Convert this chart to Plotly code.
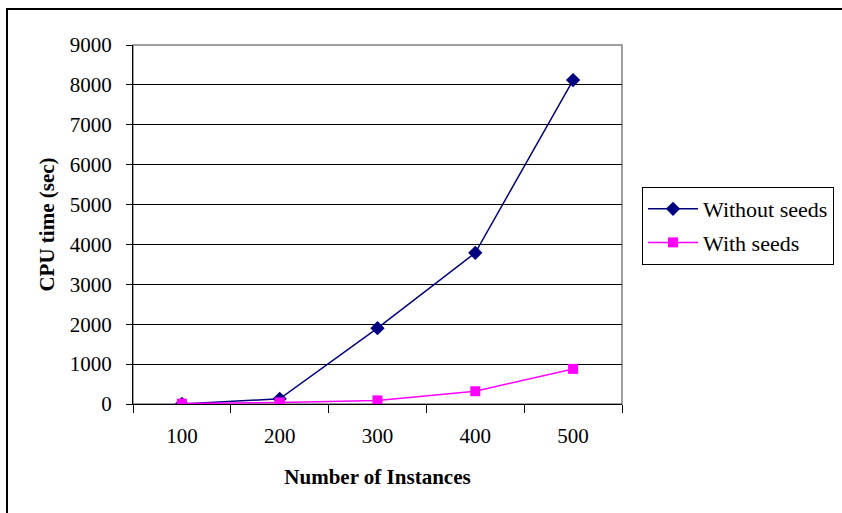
import plotly.graph_objects as go

# Problem sizes and measured CPU times (seconds)
instances = ["100", "200", "300", "400", "500"]
without_seeds = [0, 130, 1900, 3790, 8120]
with_seeds = [10, 40, 90, 320, 880]
y_ticks = [0, 1000, 2000, 3000, 4000, 5000, 6000, 7000, 8000, 9000]

SERIF = "Liberation Serif, Times New Roman, serif"

fig = go.Figure()
fig.add_trace(go.Scatter(
    x=instances, y=without_seeds, name="Without seeds",
    legendgroup="a",
    mode="lines+markers",
    line=dict(color="#000080", width=1.5),
    marker=dict(symbol="diamond", size=11, color="#000080"),
))
fig.add_trace(go.Scatter(
    x=instances, y=with_seeds, name="With seeds",
    legendgroup="b",
    mode="lines+markers",
    line=dict(color="#FF00FF", width=1.5),
    marker=dict(symbol="square", size=10, color="#FF00FF"),
))

W, H = 842, 513
L, R, T, B = 133, 220, 45, 109
pw, ph = W - L - R, H - T - B

def px_to_paper_x(px):
    return (px - L) / pw

def px_to_paper_y(py):
    return (H - B - py) / ph

fig.update_layout(
    width=W, height=H,
    margin=dict(l=L, r=R, t=T, b=B, autoexpand=False),
    paper_bgcolor="white", plot_bgcolor="white",
    font=dict(family=SERIF, size=21, color="black"),
    showlegend=True,
    legend=dict(
        x=px_to_paper_x(642), y=px_to_paper_y(187),
        xanchor="left", yanchor="top",
        bordercolor="black", borderwidth=1,
        bgcolor="white",
        font=dict(family=SERIF, size=22),
        tracegroupgap=2,
        itemwidth=50,
    ),
    xaxis=dict(
        type="category",
        range=[-0.5, 4.5],
        showgrid=False,
        showline=True, linecolor="black", linewidth=1,
        ticks="outside", ticklen=8, tickcolor="black",
        tickson="boundaries",
        ticklabelstandoff=13,
        title=dict(text="<b>Number of Instances</b>", standoff=22,
                   font=dict(family=SERIF, size=21)),
        zeroline=False,
    ),
    yaxis=dict(
        range=[0, 9000],
        tickvals=y_ticks,
        showgrid=True, gridcolor="black", gridwidth=1,
        showline=True, linecolor="black", linewidth=1,
        ticks="outside", ticklen=6, tickcolor="black",
        ticklabelstandoff=10,
        title=dict(text="<b>CPU time (sec)</b>", standoff=9,
                   font=dict(family=SERIF, size=21)),
        zeroline=False,
    ),
)

# Gray frame around the plotting area (top and right edges)
fig.add_shape(type="rect", xref="paper", yref="paper",
              x0=0, y0=0, x1=1, y1=1,
              line=dict(color="#808080", width=1.5), layer="below")
# Outer chart border
fig.add_shape(type="rect", xref="paper", yref="paper",
              x0=px_to_paper_x(7), y0=px_to_paper_y(530),
              x1=px_to_paper_x(860), y1=px_to_paper_y(9),
              line=dict(color="black", width=2), layer="above")

fig.write_html("out.html")
